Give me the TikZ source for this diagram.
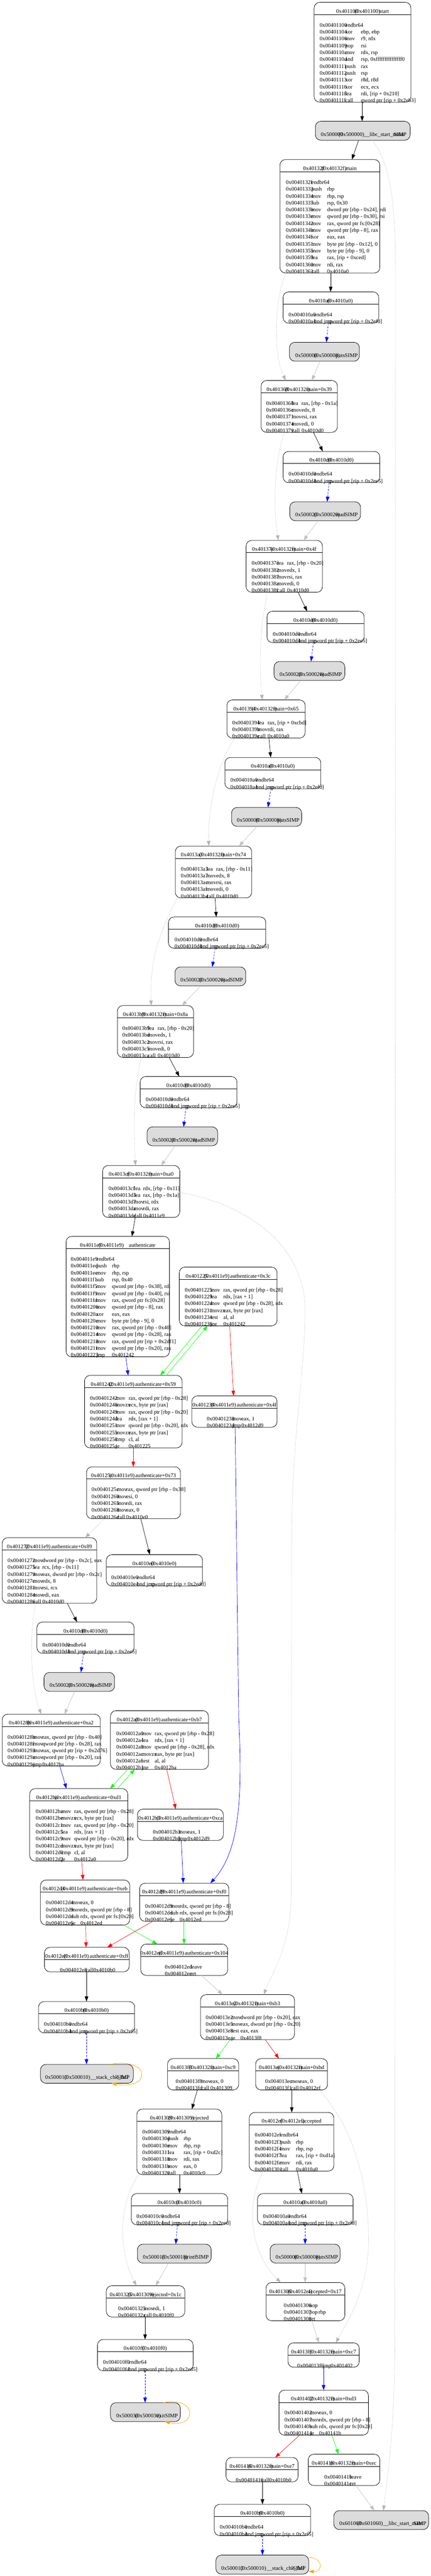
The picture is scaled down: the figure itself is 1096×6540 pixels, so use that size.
\documentclass[tikz,border=0pt]{standalone}
\usepackage{fontspec}
\setmainfont{Liberation Serif}
\usetikzlibrary{arrows.meta,calc}
\definecolor{simpgray}{HTML}{DCDCDC}
\definecolor{cBlue}{HTML}{0000FF}
\definecolor{cRed}{HTML}{FF0000}
\definecolor{cGreen}{HTML}{00FF00}
\definecolor{cGray}{HTML}{C0C0C0}
\definecolor{cDot}{HTML}{B4B4B4}
\definecolor{cOrange}{HTML}{FFA500}
\newlength\mnw
\newcommand\aln[3]{\hbox{\makebox[65pt][l]{#1}\makebox[\mnw][l]{#2}#3}}
\newcommand\asmblock[2]{\setlength\mnw{#1}\vtop{\baselineskip=17.4pt\lineskiplimit=-100pt\lineskip=0pt\relax #2}}
\newcommand\hdrtext[4]{\makebox[47pt][l]{#1}\makebox[#3pt][l]{#2}#4}
\newcommand\plthdr[1]{\makebox[47pt][l]{#1}(#1)}
\newcommand\simptext[6]{\makebox[#2pt][l]{#1}\makebox[#4pt][l]{#3}\makebox[#6pt][l]{#5}SIMP}
\tikzset{
  cbox/.style={draw=black, line width=1pt, rounded corners=14pt, fill=white, inner sep=0pt, outer sep=0pt, anchor=north west},
  gbox/.style={cbox, fill=simpgray},
  rulel/.style={draw=black, line width=1pt},
  hdn/.style={inner sep=0pt, outer sep=0pt, anchor=base},
  txtn/.style={inner sep=0pt, outer sep=0pt, anchor=base west},
  arw/.style={-{Triangle[length=13pt,width=9pt]}, line width=0.9pt},
  eblk/.style={arw, draw=black},
  eblu/.style={arw, draw=cBlue},
  edsh/.style={arw, draw=cBlue, dash pattern=on 5pt off 3pt},
  egry/.style={arw, draw=cGray},
  edot/.style={arw, draw=cDot, dash pattern=on 1.5pt off 2pt, line width=0.8pt},
  egrn/.style={arw, draw=cGreen},
  eredd/.style={arw, draw=cRed},
  eorg/.style={arw, draw=cOrange, line width=1pt},
}
% name, L, R, T, nlines, header, bodyx, body
\newcommand\cblock[8]{%
  \pgfmathsetmacro\cbW{#3-#2}%
  \pgfmathsetmacro\cbH{62+17.4*(#5-1)}%
  \pgfmathsetmacro\cbY{#4+62.5}%
  \pgfmathsetmacro\cbC{(#2+#3)/2}%
  \pgfmathsetmacro\cbHY{#4+27}%
  \node[cbox, minimum width=\cbW pt, minimum height=\cbH pt] (#1) at (#2,#4) {};
  \draw[rulel] ([yshift=-31pt]#1.north west) -- ([yshift=-31pt]#1.north east);
  \node[hdn] (#1-h) at (\cbC,\cbHY) {#6};
  \node[txtn] (#1-b) at (#7,\cbY) {#8};
}
% name, L, R, T, textx, text
\newcommand\sblock[6]{%
  \pgfmathsetmacro\cbW{#3-#2}%
  \pgfmathsetmacro\cbY{#4+37.5}%
  \node[gbox, minimum width=\cbW pt, minimum height=48pt] (#1) at (#2,#4) {};
  \node[txtn] (#1-t) at (#5,\cbY) {#6};
}
\begin{document}
\begin{tikzpicture}[x=1pt,y=-1pt,font=\fontsize{14}{17.4}\selectfont]
\fill[white] (0,0) rectangle (1096,6540);
\useasboundingbox (0,0) rectangle (1096,6540);

\cblock{st}{799}{1045}{6}{12}{\hdrtext{0x401100}{(0x401100)}{63}{start}}{813}{\asmblock{40pt}{%
\aln{0x00401100}{endbr64}{}
\aln{0x00401104}{xor}{ebp, ebp}
\aln{0x00401106}{mov}{r9, rdx}
\aln{0x00401109}{pop}{rsi}
\aln{0x0040110a}{mov}{rdx, rsp}
\aln{0x0040110d}{and}{rsp, 0xfffffffffffffff0}
\aln{0x00401111}{push}{rax}
\aln{0x00401112}{push}{rsp}
\aln{0x00401113}{xor}{r8d, r8d}
\aln{0x00401116}{xor}{ecx, ecx}
\aln{0x00401118}{lea}{rdi, [rip + 0x210]}
\aln{0x0040111f}{call}{qword ptr [rip + 0x2eb3]}}}

\sblock{lca}{802}{1043}{308}{816}{\simptext{0x500000}{45}{(0x500000)}{65}{\_\_libc\_start\_main}{75}}

\cblock{mn}{712}{966}{405}{14}{\hdrtext{0x40132f}{(0x40132f)}{61}{main}}{727}{\asmblock{40pt}{%
\aln{0x0040132f}{endbr64}{}
\aln{0x00401333}{push}{rbp}
\aln{0x00401334}{mov}{rbp, rsp}
\aln{0x00401337}{sub}{rsp, 0x30}
\aln{0x0040133b}{mov}{dword ptr [rbp - 0x24], edi}
\aln{0x0040133e}{mov}{qword ptr [rbp - 0x30], rsi}
\aln{0x00401342}{mov}{rax, qword ptr fs:[0x28]}
\aln{0x0040134b}{mov}{qword ptr [rbp - 8], rax}
\aln{0x0040134f}{xor}{eax, eax}
\aln{0x00401351}{mov}{byte ptr [rbp - 0x12], 0}
\aln{0x00401355}{mov}{byte ptr [rbp - 9], 0}
\aln{0x00401359}{lea}{rax, [rip + 0xced]}
\aln{0x00401360}{mov}{rdi, rax}
\aln{0x00401363}{call}{0x4010a0}}}

\cblock{pa1}{720}{963}{741}{2}{\plthdr{0x4010a0}}{734}{\asmblock{36pt}{%
\aln{0x004010a0}{endbr64}{}
\aln{0x004010a4}{bnd jmp}{qword ptr [rip + 0x2efd]}}}

\sblock{pt1}{736}{914}{869}{751}{\simptext{0x500008}{48}{(0x500008)}{55}{puts}{23}}

\cblock{m39}{664}{858}{966}{5}{\hdrtext{0x401368}{(0x40132f)}{55}{main+0x39}}{677}{\asmblock{25pt}{%
\aln{0x00401368}{lea}{rax, [rbp - 0x1a]}
\aln{0x0040136c}{mov}{edx, 8}
\aln{0x00401371}{mov}{rsi, rax}
\aln{0x00401374}{mov}{edi, 0}
\aln{0x00401379}{call}{0x4010d0}}}

\cblock{pd1}{720}{966}{1146}{2}{\plthdr{0x4010d0}}{734}{\asmblock{36pt}{%
\aln{0x004010d0}{endbr64}{}
\aln{0x004010d4}{bnd jmp}{qword ptr [rip + 0x2ee5]}}}

\sblock{rd1}{737}{917}{1274}{751}{\simptext{0x500020}{48}{(0x500020)}{55}{read}{23}}

\cblock{m4f}{626}{820}{1372}{5}{\hdrtext{0x40137e}{(0x40132f)}{55}{main+0x4f}}{640}{\asmblock{25pt}{%
\aln{0x0040137e}{lea}{rax, [rbp - 0x20]}
\aln{0x00401382}{mov}{edx, 1}
\aln{0x00401387}{mov}{rsi, rax}
\aln{0x0040138a}{mov}{edi, 0}
\aln{0x0040138f}{call}{0x4010d0}}}

\cblock{pd2}{679}{926}{1552}{2}{\plthdr{0x4010d0}}{694}{\asmblock{36pt}{%
\aln{0x004010d0}{endbr64}{}
\aln{0x004010d4}{bnd jmp}{qword ptr [rip + 0x2ee5]}}}

\sblock{rd2}{697}{877}{1679.5}{711}{\simptext{0x500020}{48}{(0x500020)}{55}{read}{23}}

\cblock{m65}{577}{776}{1777}{3}{\hdrtext{0x401394}{(0x40132f)}{55}{main+0x65}}{590.6}{\asmblock{25pt}{%
\aln{0x00401394}{lea}{rax, [rip + 0xcbd]}
\aln{0x0040139b}{mov}{rdi, rax}
\aln{0x0040139e}{call}{0x4010a0}}}

\cblock{pa2}{572}{816}{1923}{2}{\plthdr{0x4010a0}}{586}{\asmblock{36pt}{%
\aln{0x004010a0}{endbr64}{}
\aln{0x004010a4}{bnd jmp}{qword ptr [rip + 0x2efd]}}}

\sblock{pt2}{589}{767}{2050}{602.6}{\simptext{0x500008}{48}{(0x500008)}{55}{puts}{23}}

\cblock{m74}{446}{640}{2148}{5}{\hdrtext{0x4013a3}{(0x40132f)}{55}{main+0x74}}{460}{\asmblock{25pt}{%
\aln{0x004013a3}{lea}{rax, [rbp - 0x11]}
\aln{0x004013a7}{mov}{edx, 8}
\aln{0x004013ac}{mov}{rsi, rax}
\aln{0x004013af}{mov}{edi, 0}
\aln{0x004013b4}{call}{0x4010d0}}}

\cblock{pd3}{428.5}{676}{2328}{2}{\plthdr{0x4010d0}}{444}{\asmblock{36pt}{%
\aln{0x004010d0}{endbr64}{}
\aln{0x004010d4}{bnd jmp}{qword ptr [rip + 0x2ee5]}}}

\sblock{rd3}{445}{625}{2455}{459}{\simptext{0x500020}{48}{(0x500020)}{55}{read}{23}}

\cblock{m8a}{298.5}{492}{2553}{5}{\hdrtext{0x4013b9}{(0x40132f)}{55}{main+0x8a}}{311}{\asmblock{25pt}{%
\aln{0x004013b9}{lea}{rax, [rbp - 0x20]}
\aln{0x004013bd}{mov}{edx, 1}
\aln{0x004013c2}{mov}{rsi, rax}
\aln{0x004013c5}{mov}{edi, 0}
\aln{0x004013ca}{call}{0x4010d0}}}

\cblock{pd4}{356.5}{602.5}{2733}{2}{\plthdr{0x4010d0}}{370.5}{\asmblock{36pt}{%
\aln{0x004010d0}{endbr64}{}
\aln{0x004010d4}{bnd jmp}{qword ptr [rip + 0x2ee5]}}}

\sblock{rd4}{374}{553.6}{2861}{388}{\simptext{0x500020}{48}{(0x500020)}{55}{read}{23}}

\cblock{ma0}{261}{457}{2959}{5}{\hdrtext{0x4013cf}{(0x40132f)}{55}{main+0xa0}}{276}{\asmblock{23pt}{%
\aln{0x004013cf}{lea}{rdx, [rbp - 0x11]}
\aln{0x004013d3}{lea}{rax, [rbp - 0x1a]}
\aln{0x004013d7}{mov}{rsi, rdx}
\aln{0x004013da}{mov}{rdi, rax}
\aln{0x004013dd}{call}{0x4011e9}}}

\cblock{au}{168}{431}{3139}{15}{\hdrtext{0x4011e9}{(0x4011e9)}{77}{authenticate}}{180}{\asmblock{40pt}{%
\aln{0x004011e9}{endbr64}{}
\aln{0x004011ed}{push}{rbp}
\aln{0x004011ee}{mov}{rbp, rsp}
\aln{0x004011f1}{sub}{rsp, 0x40}
\aln{0x004011f5}{mov}{qword ptr [rbp - 0x38], rdi}
\aln{0x004011f9}{mov}{qword ptr [rbp - 0x40], rsi}
\aln{0x004011fd}{mov}{rax, qword ptr fs:[0x28]}
\aln{0x00401206}{mov}{qword ptr [rbp - 8], rax}
\aln{0x0040120a}{xor}{eax, eax}
\aln{0x0040120c}{mov}{byte ptr [rbp - 9], 0}
\aln{0x00401210}{mov}{rax, qword ptr [rbp - 0x40]}
\aln{0x00401214}{mov}{qword ptr [rbp - 0x28], rax}
\aln{0x00401218}{mov}{rax, qword ptr [rip + 0x2df1]}
\aln{0x0040121f}{mov}{qword ptr [rbp - 0x20], rax}
\aln{0x00401223}{jmp}{0x401242}}}

\cblock{a3c}{456}{704.6}{3217}{6}{\hdrtext{0x401225}{(0x4011e9)}{66}{authenticate+0x3c}}{470}{\asmblock{33pt}{%
\aln{0x00401225}{mov}{rax, qword ptr [rbp - 0x28]}
\aln{0x00401229}{lea}{rdx, [rax + 1]}
\aln{0x0040122d}{mov}{qword ptr [rbp - 0x28], rdx}
\aln{0x00401231}{movzx}{eax, byte ptr [rax]}
\aln{0x00401234}{test}{al, al}
\aln{0x00401236}{jne}{0x401242}}}

\cblock{a59}{215}{463}{3492}{8}{\hdrtext{0x401242}{(0x4011e9)}{66}{authenticate+0x59}}{229}{\asmblock{33pt}{%
\aln{0x00401242}{mov}{rax, qword ptr [rbp - 0x28]}
\aln{0x00401246}{movzx}{ecx, byte ptr [rax]}
\aln{0x00401249}{mov}{rax, qword ptr [rbp - 0x20]}
\aln{0x0040124d}{lea}{rdx, [rax + 1]}
\aln{0x00401251}{mov}{qword ptr [rbp - 0x20], rdx}
\aln{0x00401255}{movzx}{eax, byte ptr [rax]}
\aln{0x00401258}{cmp}{cl, al}
\aln{0x0040125a}{je}{0x401225}}}

\cblock{a4f}{488}{704.6}{3544}{2}{\hdrtext{0x401238}{(0x4011e9)}{66}{authenticate+0x4f}}{526}{\asmblock{23pt}{%
\aln{0x00401238}{mov}{eax, 1}
\aln{0x0040123d}{jmp}{0x4012d9}}}

\cblock{a73}{220}{459}{3724}{5}{\hdrtext{0x40125c}{(0x4011e9)}{66}{authenticate+0x73}}{233}{\asmblock{23pt}{%
\aln{0x0040125c}{mov}{rax, qword ptr [rbp - 0x38]}
\aln{0x00401260}{mov}{esi, 0}
\aln{0x00401265}{mov}{rdi, rax}
\aln{0x00401268}{mov}{eax, 0}
\aln{0x0040126d}{call}{0x4010e0}}}

\cblock{a89}{5.6}{246}{3904}{7}{\hdrtext{0x401272}{(0x4011e9)}{66}{authenticate+0x89}}{19.6}{\asmblock{23pt}{%
\aln{0x00401272}{mov}{dword ptr [rbp - 0x2c], eax}
\aln{0x00401275}{lea}{rcx, [rbp - 0x11]}
\aln{0x00401279}{mov}{eax, dword ptr [rbp - 0x2c]}
\aln{0x0040127c}{mov}{edx, 8}
\aln{0x00401281}{mov}{rsi, rcx}
\aln{0x00401284}{mov}{edi, eax}
\aln{0x00401286}{call}{0x4010d0}}}

\cblock{pe0}{270.5}{515}{3947}{2}{\plthdr{0x4010e0}}{283}{\asmblock{36pt}{%
\aln{0x004010e0}{endbr64}{}
\aln{0x004010e4}{bnd jmp}{qword ptr [rip + 0x2edd]}}}

\cblock{pd5}{94}{341}{4118}{2}{\plthdr{0x4010d0}}{108}{\asmblock{36pt}{%
\aln{0x004010d0}{endbr64}{}
\aln{0x004010d4}{bnd jmp}{qword ptr [rip + 0x2ee5]}}}

\sblock{rd5}{112}{291.5}{4246}{126}{\simptext{0x500020}{48}{(0x500020)}{55}{read}{23}}

\cblock{aa2}{5.6}{255}{4352}{5}{\hdrtext{0x40128b}{(0x4011e9)}{66}{authenticate+0xa2}}{19.6}{\asmblock{23pt}{%
\aln{0x0040128b}{mov}{rax, qword ptr [rbp - 0x40]}
\aln{0x0040128f}{mov}{qword ptr [rbp - 0x28], rax}
\aln{0x00401293}{mov}{rax, qword ptr [rip + 0x2d76]}
\aln{0x0040129a}{mov}{qword ptr [rbp - 0x20], rax}
\aln{0x0040129e}{jmp}{0x4012ba}}}

\cblock{ab7}{281}{530}{4343}{6}{\hdrtext{0x4012a0}{(0x4011e9)}{66}{authenticate+0xb7}}{295.7}{\asmblock{33pt}{%
\aln{0x004012a0}{mov}{rax, qword ptr [rbp - 0x28]}
\aln{0x004012a4}{lea}{rdx, [rax + 1]}
\aln{0x004012a8}{mov}{qword ptr [rbp - 0x28], rdx}
\aln{0x004012ac}{movzx}{eax, byte ptr [rax]}
\aln{0x004012af}{test}{al, al}
\aln{0x004012b1}{jne}{0x4012ba}}}

\cblock{ad1}{75.5}{325}{4541}{8}{\hdrtext{0x4012ba}{(0x4011e9)}{66}{authenticate+0xd1}}{91}{\asmblock{33pt}{%
\aln{0x004012ba}{mov}{rax, qword ptr [rbp - 0x28]}
\aln{0x004012be}{movzx}{ecx, byte ptr [rax]}
\aln{0x004012c1}{mov}{rax, qword ptr [rbp - 0x20]}
\aln{0x004012c5}{lea}{rdx, [rax + 1]}
\aln{0x004012c9}{mov}{qword ptr [rbp - 0x20], rdx}
\aln{0x004012cd}{movzx}{eax, byte ptr [rax]}
\aln{0x004012d0}{cmp}{cl, al}
\aln{0x004012d2}{je}{0x4012a0}}}

\cblock{aca}{349.5}{568}{4593}{2}{\hdrtext{0x4012b3}{(0x4011e9)}{66}{authenticate+0xca}}{389}{\asmblock{23pt}{%
\aln{0x004012b3}{mov}{eax, 1}
\aln{0x004012b8}{jmp}{0x4012d9}}}

\cblock{aeb}{103}{330}{4773}{4}{\hdrtext{0x4012d4}{(0x4011e9)}{66}{authenticate+0xeb}}{116.7}{\asmblock{23pt}{%
\aln{0x004012d4}{mov}{eax, 0}
\aln{0x004012d9}{mov}{rdx, qword ptr [rbp - 8]}
\aln{0x004012dd}{sub}{rdx, qword ptr fs:[0x28]}
\aln{0x004012e6}{je}{0x4012ed}}}

\cblock{af0}{355}{582}{4781}{3}{\hdrtext{0x4012d9}{(0x4011e9)}{66}{authenticate+0xf0}}{369}{\asmblock{23pt}{%
\aln{0x004012d9}{mov}{rdx, qword ptr [rbp - 8]}
\aln{0x004012dd}{sub}{rdx, qword ptr fs:[0x28]}
\aln{0x004012e6}{je}{0x4012ed}}}

\cblock{aff}{113}{328.5}{4944}{1}{\hdrtext{0x4012e8}{(0x4011e9)}{66}{authenticate+0xff}}{152.4}{\asmblock{20pt}{%
\aln{0x004012e8}{call}{0x4010b0}}}

\cblock{ah}{358}{579}{4935.6}{2}{\hdrtext{0x4012ed}{(0x4011e9)}{66}{authenticate+0x104}}{419.4}{\asmblock{23pt}{%
\aln{0x004012ed}{leave}{}
\aln{0x004012ee}{ret}{}}}

\cblock{pb1}{98}{342.5}{5081.6}{2}{\plthdr{0x4010b0}}{112}{\asmblock{36pt}{%
\aln{0x004010b0}{endbr64}{}
\aln{0x004010b4}{bnd jmp}{qword ptr [rip + 0x2ef5]}}}

\sblock{ck1}{103}{339}{5241}{115}{\simptext{0x500010}{49}{(0x500010)}{66.5}{\_\_stack\_chk\_fail}{66.5}}

\cblock{mb3}{510}{749}{5064}{4}{\hdrtext{0x4013e2}{(0x40132f)}{55}{main+0xb3}}{523.5}{\asmblock{23pt}{%
\aln{0x004013e2}{mov}{dword ptr [rbp - 0x20], eax}
\aln{0x004013e5}{mov}{eax, dword ptr [rbp - 0x20]}
\aln{0x004013e8}{test}{eax, eax}
\aln{0x004013ea}{je}{0x4013f8}}}

\cblock{mc9}{426}{607}{5226.5}{2}{\hdrtext{0x4013f8}{(0x40132f)}{55}{main+0xc9}}{447}{\asmblock{23pt}{%
\aln{0x004013f8}{mov}{eax, 0}
\aln{0x004013fd}{call}{0x401309}}}

\cblock{mbd}{650}{833}{5226.5}{2}{\hdrtext{0x4013ec}{(0x40132f)}{55}{main+0xbd}}{674.5}{\asmblock{23pt}{%
\aln{0x004013ec}{mov}{eax, 0}
\aln{0x004013f1}{call}{0x4012ef}}}

\cblock{rj}{348}{564}{5354.5}{7}{\hdrtext{0x401309}{(0x401309)}{58}{rejected}}{362}{\asmblock{40pt}{%
\aln{0x00401309}{endbr64}{}
\aln{0x0040130d}{push}{rbp}
\aln{0x0040130e}{mov}{rbp, rsp}
\aln{0x00401311}{lea}{rax, [rip + 0xd2c]}
\aln{0x00401318}{mov}{rdi, rax}
\aln{0x0040131b}{mov}{eax, 0}
\aln{0x00401320}{call}{0x4010c0}}}

\cblock{ac}{634}{849}{5363}{6}{\hdrtext{0x4012ef}{(0x4012ef)}{56}{accepted}}{648}{\asmblock{40pt}{%
\aln{0x004012ef}{endbr64}{}
\aln{0x004012f3}{push}{rbp}
\aln{0x004012f4}{mov}{rbp, rsp}
\aln{0x004012f7}{lea}{rax, [rip + 0xd1a]}
\aln{0x004012fe}{mov}{rdi, rax}
\aln{0x00401301}{call}{0x4010a0}}}

\cblock{pc0}{334}{579}{5569}{2}{\plthdr{0x4010c0}}{347}{\asmblock{36pt}{%
\aln{0x004010c0}{endbr64}{}
\aln{0x004010c4}{bnd jmp}{qword ptr [rip + 0x2eed]}}}

\cblock{pa3}{655}{898}{5569}{2}{\plthdr{0x4010a0}}{669}{\asmblock{36pt}{%
\aln{0x004010a0}{endbr64}{}
\aln{0x004010a4}{bnd jmp}{qword ptr [rip + 0x2efd]}}}

\sblock{pf}{349.5}{537}{5697.5}{363.5}{\simptext{0x500018}{48.6}{(0x500018)}{56}{printf}{30}}
\sblock{pt3}{687}{865}{5697.5}{701}{\simptext{0x500008}{48}{(0x500008)}{55}{puts}{23}}

\cblock{r1c}{270.5}{470}{5803}{2}{\hdrtext{0x401325}{(0x401309)}{56}{rejected+0x1c}}{300.6}{\asmblock{23pt}{%
\aln{0x00401325}{mov}{edi, 1}
\aln{0x0040132a}{call}{0x4010f0}}}

\cblock{a17}{676.6}{877}{5795}{3}{\hdrtext{0x401306}{(0x4012ef)}{52}{accepted+0x17}}{722}{\asmblock{23pt}{%
\aln{0x00401306}{nop}{}
\aln{0x00401307}{pop}{rbp}
\aln{0x00401308}{ret}{}}}

\cblock{pf0}{248}{491}{5939.5}{2}{\plthdr{0x4010f0}}{262}{\asmblock{36pt}{%
\aln{0x004010f0}{endbr64}{}
\aln{0x004010f4}{bnd jmp}{qword ptr [rip + 0x2ed5]}}}

\cblock{mc7}{732.5}{913.6}{5948}{1}{\hdrtext{0x4013f6}{(0x40132f)}{55}{main+0xc7}}{756}{\asmblock{20pt}{%
\aln{0x004013f6}{jmp}{0x401402}}}

\sblock{ex}{281}{458.5}{6100}{295.7}{\simptext{0x500030}{48}{(0x500030)}{55}{exit}{21}}

\cblock{md3}{709.5}{937}{6068}{4}{\hdrtext{0x401402}{(0x40132f)}{55}{main+0xd3}}{723.5}{\asmblock{23pt}{%
\aln{0x00401402}{mov}{eax, 0}
\aln{0x00401407}{mov}{rdx, qword ptr [rbp - 8]}
\aln{0x0040140b}{sub}{rdx, qword ptr fs:[0x28]}
\aln{0x00401414}{je}{0x40141b}}}

\cblock{me7}{575}{758}{6239}{1}{\hdrtext{0x401416}{(0x40132f)}{55}{main+0xe7}}{600}{\asmblock{20pt}{%
\aln{0x00401416}{call}{0x4010b0}}}

\cblock{mec}{784}{966}{6230.7}{2}{\hdrtext{0x40141b}{(0x40132f)}{55}{main+0xec}}{825}{\asmblock{23pt}{%
\aln{0x0040141b}{leave}{}
\aln{0x0040141c}{ret}{}}}

\cblock{pb2}{545}{790}{6358}{2}{\plthdr{0x4010b0}}{559}{\asmblock{36pt}{%
\aln{0x004010b0}{endbr64}{}
\aln{0x004010b4}{bnd jmp}{qword ptr [rip + 0x2ef5]}}}

\sblock{ck2}{549}{785}{6487}{562.7}{\simptext{0x500010}{49}{(0x500010)}{66.5}{\_\_stack\_chk\_fail}{66.5}}
\sblock{lcb}{849}{1090}{6374}{863}{\simptext{0x601060}{45.5}{(0x601060)}{66}{\_\_libc\_start\_main}{77}}

% ---------------- edges ----------------
\draw[eblk] (st.south -| 921,0) -- (lca.north -| 921,0);
\draw[eblk] (lca.south -| 912,0) -- (mn.north -| 895,0);
\draw[edot] (lca.south -| 947,0) .. controls (995,420) and (1006,520) .. (1006,700) -- (1004,5950) .. controls (1003,6180) and (985,6290) .. (lcb.north -| 975,0);
\draw[eblk] (mn.south -| 841,0) -- (pa1.north -| 841,0);
\draw[edsh] (pa1.south -| 835,0) -- (pt1.north -| 830,0);
\draw[egry] (pt1.south -| 814,0) -- (m39.north -| 793,0);
\draw[edot] (mn.south -| 727,0) .. controls (698,760) and (694,900) .. (m39.north -| 727,0);
\draw[eblk] (m39.south -| 797,0) -- (pd1.north -| 821,0);
\draw[edsh] (pd1.south -| 837,0) -- (rd1.north -| 832,0);
\draw[egry] (rd1.south -| 809,0) -- (m4f.north -| 772,0);
\draw[edot] (m39.south -| 723,0) .. controls (696,1180) and (695,1290) .. (m4f.north -| 708,0);
\draw[eblk] (m4f.south -| 758,0) -- (pd2.north -| 781,0);
\draw[edsh] (pd2.south -| 797,0) -- (rd2.north -| 791,0);
\draw[egry] (rd2.south -| 765,0) -- (m65.north -| 723,0);
\draw[edot] (m4f.south -| 681,0) .. controls (658,1600) and (660,1700) .. (m65.north -| 667,0);
\draw[eblk] (m65.south -| 684,0) -- (pa2.north -| 688.5,0);
\draw[edsh] (pa2.south -| 688.5,0) -- (pt2.north -| 681.5,0);
\draw[egry] (pt2.south -| 653.5,0) -- (m74.north -| 608,0);
\draw[edot] (m65.south -| 598,0) .. controls (555,1930) and (528,2050) .. (m74.north -| 531,0);
\draw[eblk] (m74.south -| 547,0) -- (pd3.north -| 550,0);
\draw[edsh] (pd3.south -| 547,0) -- (rd3.north -| 540,0);
\draw[egry] (rd3.south -| 510,0) -- (m8a.north -| 463,0);
\draw[edot] (m74.south -| 451,0) .. controls (398,2380) and (381,2450) .. (m8a.north -| 384.5,0);
\draw[eblk] (m8a.south -| 430,0) -- (pd4.north -| 456,0);
\draw[edsh] (pd4.south -| 473,0) -- (rd4.north -| 467,0);
\draw[egry] (rd4.south -| 445,0) -- (ma0.north -| 410,0);
\draw[edot] (m8a.south -| 360,0) .. controls (338,2760) and (340,2880) .. (ma0.north -| 344.6,0);
\draw[eblk] (ma0.south -| 344,0) -- (au.north -| 335.5,0);
\draw[edot] (ma0.east |- 0,3027) .. controls (640,3060) and (778,3170) .. (776,3330) .. controls (774,3500) and (742,3650) .. (742,3900) -- (741,4800) .. controls (740,4950) and (690,5010) .. (mb3.north -| 671,0);
\draw[eblu] (au.south -| 320,0) -- (a59.north -| 326,0);
\draw[egrn] (a3c.south -| 514,0) -- (a59.north -| 407.5,0);
\draw[egrn] (a59.north -| 423,0) -- (a3c.south -| 528,0);
\draw[eredd] (a3c.south -| 584,0) -- (a4f.north -| 594,0);
\draw[eblu] (a4f.south -| 598,0) -- (607,4360) .. controls (617,4560) and (610,4700) .. (af0.north -| 535,0);
\draw[eredd] (a59.south -| 339,0) -- (a73.north -| 339,0);
\draw[eblk] (a73.south -| 358,0) -- (pe0.north -| 381,0);
\draw[edot] (a73.south -| 265.6,0) -- (a89.north -| 216.7,0);
\draw[eblk] (a89.south -| 171,0) -- (pd5.north -| 196,0);
\draw[edsh] (pd5.south -| 212,0) -- (rd5.north -| 206,0);
\draw[egry] (rd5.south -| 190,0) -- (aa2.north -| 164,0);
\draw[edot] (a89.south -| 91,0) .. controls (73,4150) and (78,4280) .. (aa2.north -| 105,0);
\draw[eblu] (aa2.south -| 152,0) -- (ad1.north -| 169,0);
\draw[egrn] (ab7.south -| 325,0) -- (ad1.north -| 280,0);
\draw[egrn] (ad1.north -| 298.5,0) -- (ab7.south -| 342.5,0);
\draw[eredd] (ab7.south -| 424,0) -- (aca.north -| 447,0);
\draw[eblu] (aca.south -| 461,0) -- (af0.north -| 466,0);
\draw[eredd] (ad1.south -| 208,0) -- (aeb.north -| 211,0);
\draw[eredd] (aeb.south -| 218,0) -- (aff.north -| 219,0);
\draw[egrn] (aeb.south -| 314.6,0) -- (ah.north -| 400,0);
\draw[eredd] (af0.south -| 388,0) -- (aff.north -| 272.6,0);
\draw[egrn] (af0.south -| 468,0) -- (ah.north -| 468,0);
\draw[eblk] (aff.south -| 220,0) -- (pb1.north -| 220,0);
\draw[edsh] (pb1.south -| 220,0) -- (ck1.north -| 220,0);
\draw[eorg] (ck1.north -| 280,0) .. controls (385,5222) and (385,5308) .. (ck1.south -| 283,0);
\draw[egry] (ah.south -| 512,0) -- (mb3.north -| 566,0);
\draw[egrn] (mb3.south -| 586,0) -- (mc9.north -| 549,0);
\draw[eredd] (mb3.south -| 674.5,0) -- (mbd.north -| 709.5,0);
\draw[eblk] (mc9.south -| 502,0) -- (rj.north -| 488,0);
\draw[eblk] (mbd.south -| 742,0) -- (ac.north -| 742,0);
\draw[edot] (mbd.south -| 811,0) .. controls (900,5400) and (940,5550) .. (937,5700) .. controls (934,5820) and (880,5900) .. (mc7.north -| 854,0);
\draw[eblk] (rj.south -| 456.5,0) -- (pc0.north -| 456.5,0);
\draw[eblk] (ac.south -| 756,0) -- (pa3.north -| 767.5,0);
\draw[edsh] (pc0.south -| 451,0) -- (pf.north -| 447,0);
\draw[edsh] (pa3.south -| 776,0) -- (pt3.north -| 776,0);
\draw[egry] (pf.south -| 428.5,0) -- (r1c.north -| 396,0);
\draw[edot] (rj.south -| 353,0) .. controls (298,5600) and (303,5720) .. (r1c.north -| 347,0);
\draw[egry] (pt3.south -| 776,0) -- (a17.north -| 776,0);
\draw[edot] (ac.south -| 669.6,0) .. controls (622,5600) and (638,5720) .. (a17.north -| 714,0);
\draw[eblk] (r1c.south -| 369,0) -- (pf0.north -| 369,0);
\draw[edsh] (pf0.south -| 369,0) -- (ex.north -| 369,0);
\draw[eorg] (ex.north -| 416,0) .. controls (502,6082) and (502,6166) .. (ex.south -| 419,0);
\draw[egry] (a17.south -| 793,0) -- (mc7.north -| 811,0);
\draw[eblu] (mc7.south -| 823,0) -- (md3.north -| 823,0);
\draw[eredd] (md3.south -| 762,0) -- (me7.north -| 700,0);
\draw[egrn] (md3.south -| 844,0) -- (mec.north -| 861,0);
\draw[eblk] (me7.south -| 667.5,0) -- (pb2.north -| 667.5,0);
\draw[edsh] (pb2.south -| 667.5,0) -- (ck2.north -| 667.5,0);
\draw[eorg] (ck2.east |- 0,6493) .. controls (822,6493) and (822,6530) .. (ck2.east |- 0,6528);
\draw[egry] (mec.south -| 905,0) -- (lcb.north -| 952,0);
\end{tikzpicture}
\end{document}
